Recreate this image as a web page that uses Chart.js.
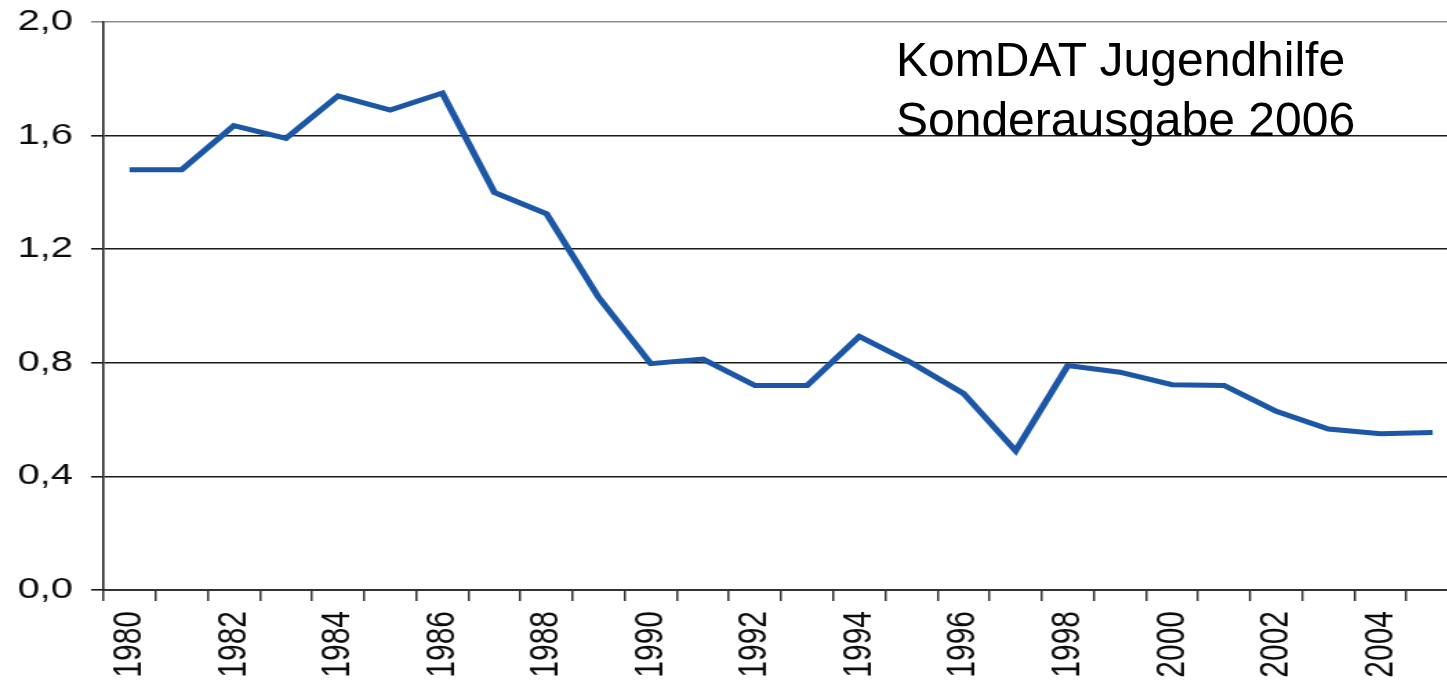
<!DOCTYPE html>
<html>
<head>
<meta charset="utf-8">
<script src="https://cdn.jsdelivr.net/npm/chart.js@4"></script>
<style>
    html, body { margin: 0; padding: 0; background: #fff; width: 1447px; height: 685px; overflow: hidden; }
    /* the original picture is stretched sideways, so the chart is too */
    #wrap { position: absolute; left: 0; top: 0; width: 1057px; height: 685px; transform: scaleX(1.38); transform-origin: 0 0; }
    #note { position: absolute; left: 896px; top: 30px; font: 48px "Liberation Sans", Arial, sans-serif; line-height: 60px; color: #000; white-space: nowrap; }
</style>
</head>
<body>
<div id="wrap"><canvas id="mycanvas" width="1057" height="685"></canvas></div>
<div id="note">KomDAT Jugendhilfe<br>Sonderausgabe 2006</div>
<script>
var years = [1980, 1981, 1982, 1983, 1984, 1985, 1986, 1987, 1988, 1989, 1990, 1991, 1992,
             1993, 1994, 1995, 1996, 1997, 1998, 1999, 2000, 2001, 2002, 2003, 2004, 2005];
var values = [1.48, 1.48, 1.635, 1.59, 1.74, 1.69, 1.75, 1.40, 1.325, 1.03, 0.797, 0.813, 0.72,
              0.72, 0.893, 0.80, 0.692, 0.49, 0.79, 0.767, 0.723, 0.72, 0.629, 0.567, 0.55, 0.555];
var yTicks = [0, 0.4, 0.8, 1.2, 1.6, 2.0];

var lineBlue = '#1b57a6';

Chart.defaults.font.family = '"Liberation Sans", Arial, sans-serif';
Chart.defaults.color = '#0d0d0d';

var ctx = document.getElementById('mycanvas');
var chart = new Chart(ctx, {
    type: 'line',
    data: {
        labels: years,
        datasets: [{
            label: 'Wert',
            data: values,
            borderColor: lineBlue,
            backgroundColor: lineBlue,
            borderWidth: 5,
            pointRadius: 0,
            tension: 0,
            fill: false
        }]
    },
    options: {
        responsive: false,
        animation: false,
        devicePixelRatio: 1,
        layout: { padding: { top: 22, right: 0, bottom: 0, left: 0 } },
        plugins: {
            legend: { display: false },
            tooltip: { enabled: false }
        },
        scales: {
            x: {
                type: 'category',
                offset: true,
                afterFit: function (scale) {
                    scale.height = 95;
                    scale.paddingLeft = 0;
                    scale.paddingRight = 0;
                },
                grid: {
                    offset: true,
                    drawOnChartArea: false,
                    drawTicks: true,
                    tickLength: 11,
                    color: '#333',
                    lineWidth: 1.5
                },
                border: { display: true, color: '#333', width: 2 },
                ticks: {
                    autoSkip: false,
                    minRotation: 90,
                    maxRotation: 90,
                    padding: 10,
                    font: { size: 30 },
                    callback: function (value, index) {
                        var y = years[index];
                        return y % 2 === 0 ? String(y) : '';
                    }
                }
            },
            y: {
                min: 0,
                max: 2,
                afterFit: function (scale) {
                    scale.width = 75;
                    scale.paddingTop = 0;
                    scale.paddingBottom = 0;
                },
                afterBuildTicks: function (scale) {
                    scale.ticks = yTicks.map(function (v) { return { value: v }; });
                },
                grid: {
                    drawTicks: true,
                    tickLength: 9,
                    lineWidth: 1.6,
                    color: function (c) {
                        return (c.tick && Math.abs(c.tick.value - 2) < 1e-6) ? '#8c8c8c' : '#1a1a1a';
                    }
                },
                border: { display: true, color: '#222', width: 1.6 },
                ticks: {
                    padding: 13,
                    font: { size: 29 },
                    callback: function (value) {
                        return Number(value).toFixed(1).replace('.', ',');
                    }
                }
            }
        }
    }
});
</script>
</body>
</html>
